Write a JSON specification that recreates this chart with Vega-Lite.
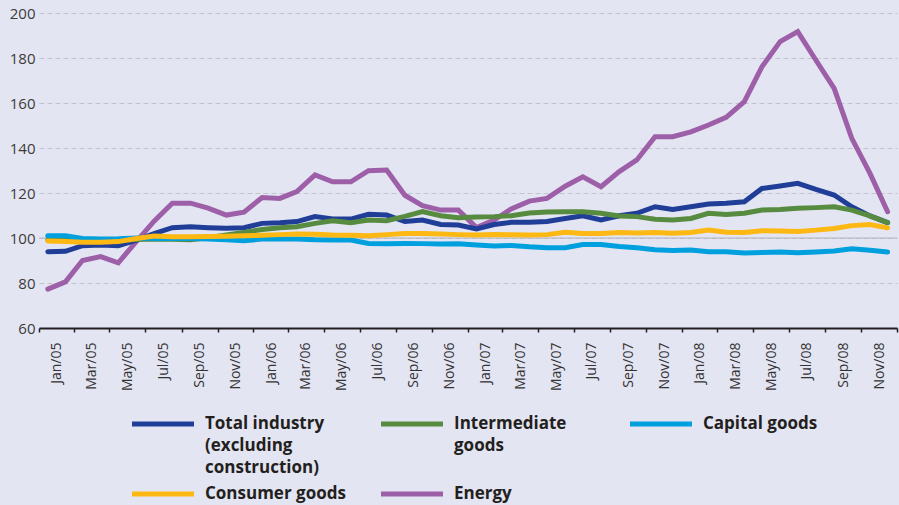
{
  "$schema": "https://vega.github.io/schema/vega-lite/v6.json",
  "width": 858,
  "height": 315,
  "autosize": {"type": "none"},
  "padding": {"left": 39, "top": 13, "right": 2, "bottom": 177},
  "background": "#e4e5f2",
  "config": {
    "view": {"stroke": null},
    "font": "Open Sans",
    "style": {"guide-label": {"lineHeight": 22}}
  },
  "datasets": {
    "series": [
      {"month": "2005-01-16", "Energy": 77.3, "Total industry (excluding construction)": 93.9, "Intermediate goods": 99.2, "Capital goods": 101.0, "Consumer goods": 98.7},
      {"month": "2005-02-15", "Energy": 80.5, "Total industry (excluding construction)": 94.1, "Intermediate goods": 99.0, "Capital goods": 101.0, "Consumer goods": 98.4},
      {"month": "2005-03-16", "Energy": 90.0, "Total industry (excluding construction)": 96.6, "Intermediate goods": 98.8, "Capital goods": 99.8, "Consumer goods": 98.1},
      {"month": "2005-04-16", "Energy": 91.7, "Total industry (excluding construction)": 96.9, "Intermediate goods": 98.8, "Capital goods": 99.6, "Consumer goods": 98.1},
      {"month": "2005-05-16", "Energy": 89.0, "Total industry (excluding construction)": 96.6, "Intermediate goods": 99.0, "Capital goods": 99.7, "Consumer goods": 98.4},
      {"month": "2005-06-16", "Energy": 98.5, "Total industry (excluding construction)": 99.1, "Intermediate goods": 99.3, "Capital goods": 100.0, "Consumer goods": 99.8},
      {"month": "2005-07-16", "Energy": 107.5, "Total industry (excluding construction)": 102.0, "Intermediate goods": 99.6, "Capital goods": 99.8, "Consumer goods": 100.9},
      {"month": "2005-08-16", "Energy": 115.5, "Total industry (excluding construction)": 104.6, "Intermediate goods": 99.4, "Capital goods": 99.8, "Consumer goods": 100.6},
      {"month": "2005-09-16", "Energy": 115.5, "Total industry (excluding construction)": 105.0, "Intermediate goods": 99.2, "Capital goods": 99.8, "Consumer goods": 100.6},
      {"month": "2005-10-16", "Energy": 113.3, "Total industry (excluding construction)": 104.6, "Intermediate goods": 100.1, "Capital goods": 99.6, "Consumer goods": 100.7},
      {"month": "2005-11-16", "Energy": 110.2, "Total industry (excluding construction)": 104.3, "Intermediate goods": 101.3, "Capital goods": 99.2, "Consumer goods": 100.8},
      {"month": "2005-12-16", "Energy": 111.5, "Total industry (excluding construction)": 104.6, "Intermediate goods": 102.5, "Capital goods": 98.8, "Consumer goods": 101.0},
      {"month": "2006-01-16", "Energy": 118.0, "Total industry (excluding construction)": 106.5, "Intermediate goods": 103.8, "Capital goods": 99.5, "Consumer goods": 101.2},
      {"month": "2006-02-15", "Energy": 117.6, "Total industry (excluding construction)": 106.8, "Intermediate goods": 104.6, "Capital goods": 99.6, "Consumer goods": 101.5},
      {"month": "2006-03-16", "Energy": 120.6, "Total industry (excluding construction)": 107.3, "Intermediate goods": 105.0, "Capital goods": 99.6, "Consumer goods": 101.8},
      {"month": "2006-04-16", "Energy": 128.0, "Total industry (excluding construction)": 109.5, "Intermediate goods": 106.5, "Capital goods": 99.2, "Consumer goods": 101.7},
      {"month": "2006-05-16", "Energy": 125.0, "Total industry (excluding construction)": 108.5, "Intermediate goods": 107.7, "Capital goods": 99.1, "Consumer goods": 101.3},
      {"month": "2006-06-16", "Energy": 125.0, "Total industry (excluding construction)": 108.4, "Intermediate goods": 106.8, "Capital goods": 99.1, "Consumer goods": 101.2},
      {"month": "2006-07-16", "Energy": 129.9, "Total industry (excluding construction)": 110.5, "Intermediate goods": 108.0, "Capital goods": 97.6, "Consumer goods": 101.0},
      {"month": "2006-08-16", "Energy": 130.2, "Total industry (excluding construction)": 110.2, "Intermediate goods": 107.7, "Capital goods": 97.5, "Consumer goods": 101.5},
      {"month": "2006-09-16", "Energy": 119.0, "Total industry (excluding construction)": 107.3, "Intermediate goods": 109.6, "Capital goods": 97.6, "Consumer goods": 102.0},
      {"month": "2006-10-16", "Energy": 114.4, "Total industry (excluding construction)": 108.0, "Intermediate goods": 111.7, "Capital goods": 97.5, "Consumer goods": 102.0},
      {"month": "2006-11-16", "Energy": 112.4, "Total industry (excluding construction)": 106.0, "Intermediate goods": 109.9, "Capital goods": 97.3, "Consumer goods": 101.8},
      {"month": "2006-12-16", "Energy": 112.4, "Total industry (excluding construction)": 105.8, "Intermediate goods": 109.0, "Capital goods": 97.4, "Consumer goods": 101.5},
      {"month": "2007-01-16", "Energy": 104.6, "Total industry (excluding construction)": 104.0, "Intermediate goods": 109.3, "Capital goods": 96.9, "Consumer goods": 101.3},
      {"month": "2007-02-15", "Energy": 108.0, "Total industry (excluding construction)": 106.0, "Intermediate goods": 109.5, "Capital goods": 96.5, "Consumer goods": 101.6},
      {"month": "2007-03-16", "Energy": 112.9, "Total industry (excluding construction)": 107.0, "Intermediate goods": 109.9, "Capital goods": 96.7, "Consumer goods": 101.4},
      {"month": "2007-04-16", "Energy": 116.4, "Total industry (excluding construction)": 107.0, "Intermediate goods": 111.1, "Capital goods": 96.1, "Consumer goods": 101.3},
      {"month": "2007-05-16", "Energy": 117.6, "Total industry (excluding construction)": 107.3, "Intermediate goods": 111.6, "Capital goods": 95.7, "Consumer goods": 101.5},
      {"month": "2007-06-16", "Energy": 123.0, "Total industry (excluding construction)": 108.7, "Intermediate goods": 111.7, "Capital goods": 95.7, "Consumer goods": 102.5},
      {"month": "2007-07-16", "Energy": 127.2, "Total industry (excluding construction)": 109.9, "Intermediate goods": 111.7, "Capital goods": 97.1, "Consumer goods": 102.0},
      {"month": "2007-08-16", "Energy": 122.8, "Total industry (excluding construction)": 108.0, "Intermediate goods": 111.0, "Capital goods": 97.1, "Consumer goods": 102.0},
      {"month": "2007-09-16", "Energy": 129.5, "Total industry (excluding construction)": 109.9, "Intermediate goods": 109.8, "Capital goods": 96.2, "Consumer goods": 102.4},
      {"month": "2007-10-16", "Energy": 134.7, "Total industry (excluding construction)": 111.0, "Intermediate goods": 109.5, "Capital goods": 95.7, "Consumer goods": 102.2},
      {"month": "2007-11-16", "Energy": 145.0, "Total industry (excluding construction)": 113.9, "Intermediate goods": 108.3, "Capital goods": 94.8, "Consumer goods": 102.4},
      {"month": "2007-12-16", "Energy": 145.0, "Total industry (excluding construction)": 112.7, "Intermediate goods": 108.0, "Capital goods": 94.5, "Consumer goods": 102.1},
      {"month": "2008-01-16", "Energy": 147.2, "Total industry (excluding construction)": 113.9, "Intermediate goods": 108.7, "Capital goods": 94.7, "Consumer goods": 102.4},
      {"month": "2008-02-15", "Energy": 150.2, "Total industry (excluding construction)": 115.1, "Intermediate goods": 111.0, "Capital goods": 93.9, "Consumer goods": 103.5},
      {"month": "2008-03-16", "Energy": 153.6, "Total industry (excluding construction)": 115.4, "Intermediate goods": 110.5, "Capital goods": 93.9, "Consumer goods": 102.6},
      {"month": "2008-04-16", "Energy": 160.6, "Total industry (excluding construction)": 116.1, "Intermediate goods": 111.0, "Capital goods": 93.3, "Consumer goods": 102.4},
      {"month": "2008-05-16", "Energy": 176.1, "Total industry (excluding construction)": 122.0, "Intermediate goods": 112.4, "Capital goods": 93.6, "Consumer goods": 103.2},
      {"month": "2008-06-16", "Energy": 187.3, "Total industry (excluding construction)": 123.1, "Intermediate goods": 112.7, "Capital goods": 93.8, "Consumer goods": 103.1},
      {"month": "2008-07-16", "Energy": 191.7, "Total industry (excluding construction)": 124.3, "Intermediate goods": 113.2, "Capital goods": 93.4, "Consumer goods": 102.9},
      {"month": "2008-08-16", "Energy": 179.0, "Total industry (excluding construction)": 121.6, "Intermediate goods": 113.5, "Capital goods": 93.8, "Consumer goods": 103.5},
      {"month": "2008-09-16", "Energy": 166.5, "Total industry (excluding construction)": 119.1, "Intermediate goods": 113.9, "Capital goods": 94.2, "Consumer goods": 104.2},
      {"month": "2008-10-16", "Energy": 144.3, "Total industry (excluding construction)": 113.9, "Intermediate goods": 112.4, "Capital goods": 95.2, "Consumer goods": 105.5},
      {"month": "2008-11-16", "Energy": 128.7, "Total industry (excluding construction)": 109.8, "Intermediate goods": 109.8, "Capital goods": 94.6, "Consumer goods": 106.0},
      {"month": "2008-12-16", "Energy": 111.7, "Total industry (excluding construction)": 106.8, "Intermediate goods": 106.8, "Capital goods": 93.8, "Consumer goods": 104.5}
    ],
    "baseline": [{"level": 100}]
  },
  "layer": [
    {
      "data": {"name": "baseline"},
      "mark": {"type": "rule", "color": "#b4b5bd", "strokeWidth": 1.2},
      "encoding": {
        "y": {"field": "level", "type": "quantitative"}
      }
    },
    {
      "data": {"name": "series"},
      "transform": [
        {"fold": ["Energy", "Total industry (excluding construction)", "Intermediate goods", "Capital goods", "Consumer goods"], "as": ["series", "value"]}
      ],
      "mark": {"type": "line", "strokeWidth": 5, "strokeCap": "round", "strokeJoin": "miter"},
      "encoding": {
        "x": {
          "field": "month",
          "type": "temporal",
          "scale": {"type": "utc", "domain": [{"year": 2005, "month": 1, "date": 1, "utc": true}, {"year": 2009, "month": 1, "date": 1, "utc": true}]},
          "axis": {
            "title": null,
            "values": [
              {"year": 2005, "month": 1, "date": 1, "utc": true},
              {"year": 2005, "month": 3, "date": 1, "utc": true},
              {"year": 2005, "month": 5, "date": 1, "utc": true},
              {"year": 2005, "month": 7, "date": 1, "utc": true},
              {"year": 2005, "month": 9, "date": 1, "utc": true},
              {"year": 2005, "month": 11, "date": 1, "utc": true},
              {"year": 2006, "month": 1, "date": 1, "utc": true},
              {"year": 2006, "month": 3, "date": 1, "utc": true},
              {"year": 2006, "month": 5, "date": 1, "utc": true},
              {"year": 2006, "month": 7, "date": 1, "utc": true},
              {"year": 2006, "month": 9, "date": 1, "utc": true},
              {"year": 2006, "month": 11, "date": 1, "utc": true},
              {"year": 2007, "month": 1, "date": 1, "utc": true},
              {"year": 2007, "month": 3, "date": 1, "utc": true},
              {"year": 2007, "month": 5, "date": 1, "utc": true},
              {"year": 2007, "month": 7, "date": 1, "utc": true},
              {"year": 2007, "month": 9, "date": 1, "utc": true},
              {"year": 2007, "month": 11, "date": 1, "utc": true},
              {"year": 2008, "month": 1, "date": 1, "utc": true},
              {"year": 2008, "month": 3, "date": 1, "utc": true},
              {"year": 2008, "month": 5, "date": 1, "utc": true},
              {"year": 2008, "month": 7, "date": 1, "utc": true},
              {"year": 2008, "month": 9, "date": 1, "utc": true},
              {"year": 2008, "month": 11, "date": 1, "utc": true},
              {"year": 2009, "month": 1, "date": 1, "utc": true}
            ],
            "format": "%b/%y",
            "labelExpr": "utcyear(datum.value) >= 2009 ? '' : datum.label",
            "labelAngle": -90,
            "labelAlign": "right",
            "labelBaseline": "middle",
            "labelOffset": 17.9,
            "labelPadding": 10,
            "labelFontSize": 14,
            "labelColor": "#333333",
            "labelFont": "Open Sans",
            "labelOverlap": false,
            "labelFlush": false,
            "grid": false,
            "domainColor": "#231f20",
            "domainWidth": 2,
            "tickColor": "#231f20",
            "tickWidth": 1.5,
            "tickSize": 4
          }
        },
        "y": {
          "field": "value",
          "type": "quantitative",
          "scale": {"domain": [60, 200], "nice": false, "zero": false},
          "axis": {
            "title": null,
            "values": [60, 80, 100, 120, 140, 160, 180, 200],
            "domain": false,
            "ticks": false,
            "labelPadding": 4,
            "labelFontSize": 15,
            "labelColor": "#3b3b3b",
            "labelFont": "Open Sans",
            "grid": true,
            "gridDash": [5, 3],
            "gridColor": "#c2c3cb",
            "gridWidth": 1
          }
        },
        "color": {
          "field": "series",
          "type": "nominal",
          "scale": {
            "domain": ["Total industry (excluding construction)", "Intermediate goods", "Capital goods", "Consumer goods", "Energy"],
            "range": ["#203e97", "#578b40", "#00a0de", "#fdb813", "#9d5fa7"]
          },
          "legend": {
            "title": null,
            "orient": "none",
            "legendX": 111,
            "legendY": 398,
            "direction": "horizontal",
            "columns": 3,
            "gridAlign": "all",
            "columnPadding": 25,
            "rowPadding": 5,
            "padding": 0,
            "symbolType": "M-3,0H3",
            "symbolSize": 427,
            "symbolStrokeWidth": 5,
            "labelFont": "Open Sans",
            "labelFontWeight": "bold",
            "labelFontSize": 17,
            "labelColor": "#231f20",
            "labelOffset": 29,
            "labelLimit": 400,
            "labelBaseline": "middle",
            "labelExpr": "datum.label == 'Total industry (excluding construction)' ? ['Total industry', '(excluding', 'construction)'] : datum.label == 'Intermediate goods' ? ['Intermediate', 'goods', ''] : [datum.label, '', '']"
          }
        }
      }
    }
  ]
}
